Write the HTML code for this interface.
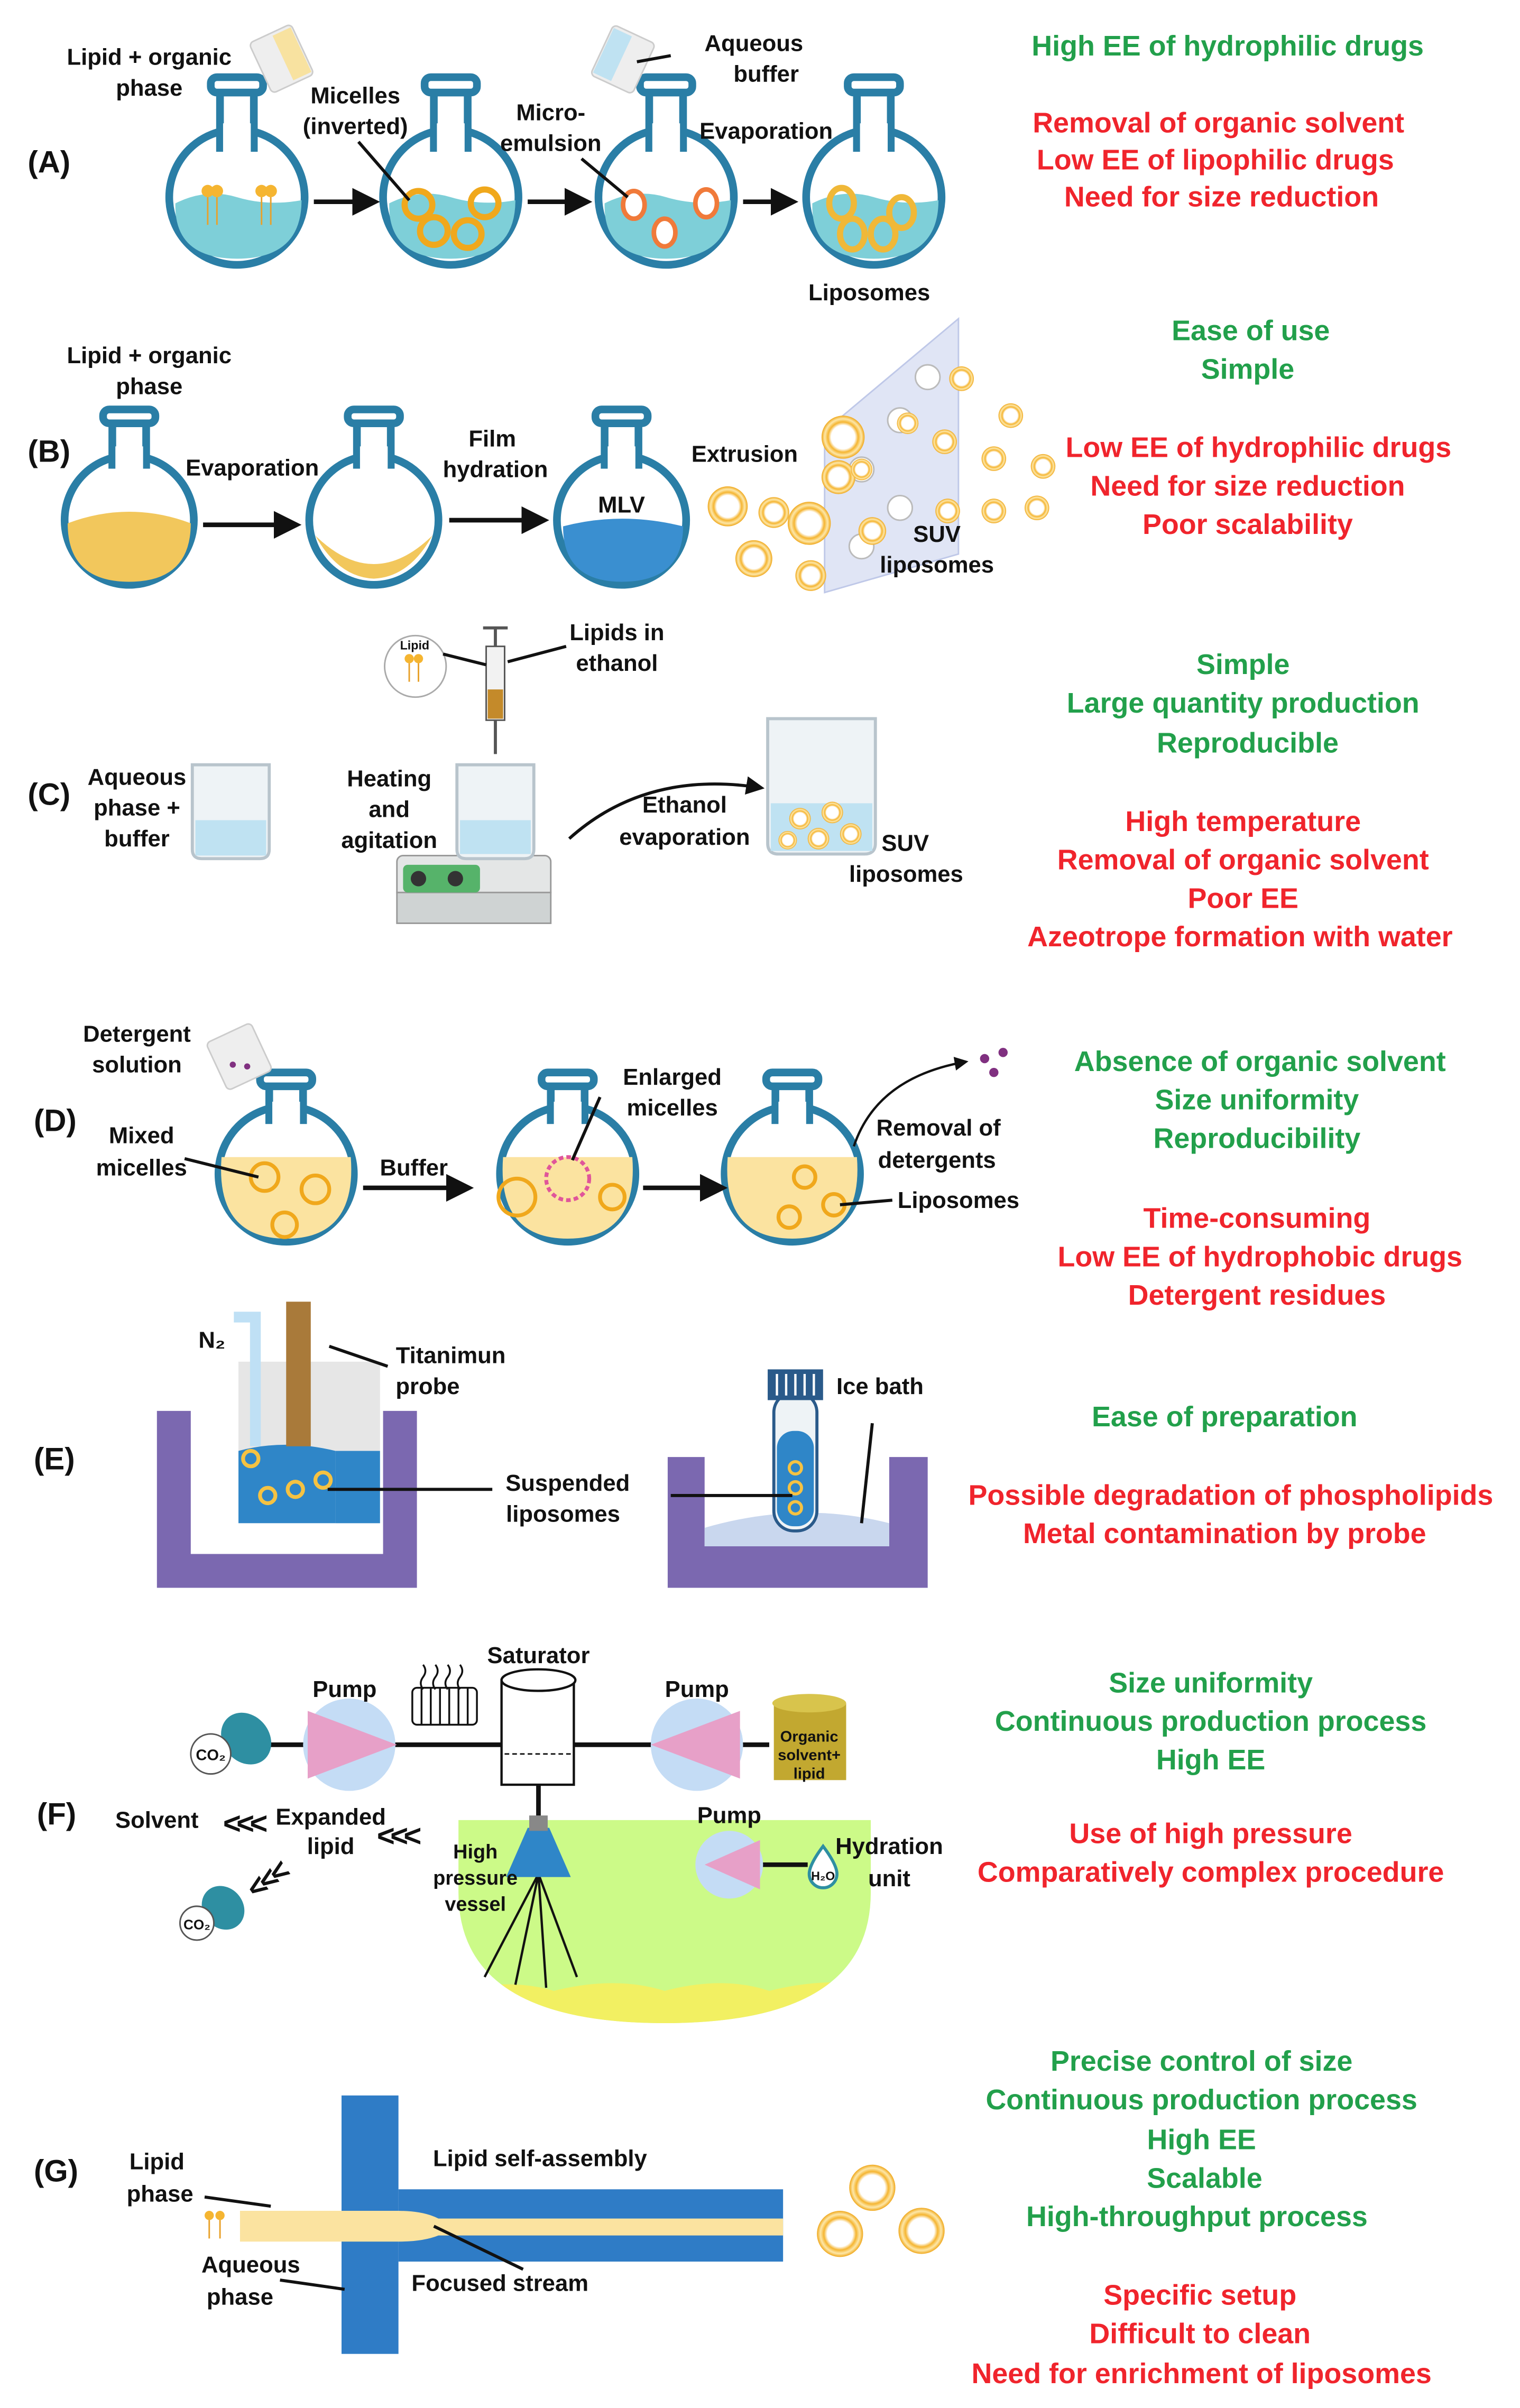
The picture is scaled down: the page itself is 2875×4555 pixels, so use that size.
<!DOCTYPE html>
<html><head><meta charset="utf-8"><style>
html,body{margin:0;padding:0;background:#fff}
svg{display:block}
text{font-family:"Liberation Sans",sans-serif;font-weight:bold}
.g{fill:#22a04b;font-size:18.5px;text-anchor:middle}
.r{fill:#f0242c;font-size:18.5px;text-anchor:middle}
.l{fill:#111;font-size:15px}
.c{text-anchor:middle}
.P{font-size:20px;fill:#111}
.fl{fill:#fff;stroke:#2a7ea6;stroke-width:5}
.ar{stroke:#111;stroke-width:3;fill:none;marker-end:url(#ah)}
.ln{stroke:#111;stroke-width:2;fill:none}
.ves{fill:none;stroke:#f0a81c;stroke-width:4}
</style></head><body>
<svg width="2875" height="4555" viewBox="0 0 988 1565" xmlns="http://www.w3.org/2000/svg">
<defs>
<marker id="ah" markerWidth="6" markerHeight="6" refX="5" refY="3" orient="auto"><path d="M0,0 L6,3 L0,6 z" fill="#111"/></marker>
<radialGradient id="lip"><stop offset="55%" stop-color="#fff"/><stop offset="70%" stop-color="#f5b531"/><stop offset="85%" stop-color="#fde7a8"/><stop offset="100%" stop-color="#f0a81c"/></radialGradient>
<clipPath id="vc"><path d="M298,1183 H566 V1230 Q566,1315 432,1315 Q298,1315 298,1230z"/></clipPath>
</defs>
<text class="P" x="18" y="112">(A)</text>
<text class="P" x="18" y="300">(B)</text>
<text class="P" x="18" y="523">(C)</text>
<text class="P" x="22" y="735">(D)</text>
<text class="P" x="22" y="955">(E)</text>
<text class="P" x="24" y="1186">(F)</text>
<text class="P" x="22" y="1418">(G)</text>

<!-- ===== A ===== -->
<g>
 <g id="fa">
  <circle class="fl" cx="154" cy="128" r="44"/>
  <rect class="fl" x="143" y="56" width="22" height="40"/>
  <rect x="145" y="80" width="18" height="20" fill="#fff"/>
  <rect x="137" y="50" width="34" height="10" rx="4" fill="#fff" stroke="#2a7ea6" stroke-width="5"/>
  <path d="M114,132 Q134,122 154,128 T196,130 Q196,168 154,168 Q113,168 114,132z" fill="#7ecfd8"/>
 </g>
 <use href="#fa" x="139"/><use href="#fa" x="279"/><use href="#fa" x="414"/>
 <g fill="#f5b531"><circle cx="135" cy="124" r="4"/><circle cx="141" cy="124" r="4"/><circle cx="170" cy="124" r="4"/><circle cx="176" cy="124" r="4"/></g>
 <g stroke="#e8a12a" stroke-width="1"><path d="M135,128v18M141,128v18M170,128v18M176,128v18"/></g>
 <g class="ves" stroke-width="3"><circle cx="272" cy="133" r="9"/><circle cx="315" cy="132" r="9"/><circle cx="282" cy="150" r="9"/><circle cx="304" cy="152" r="9"/></g>
 <g fill="#fff" stroke="#f07a3a" stroke-width="3"><ellipse cx="412" cy="133" rx="7" ry="9"/><ellipse cx="459" cy="132" rx="7" ry="9"/><ellipse cx="432" cy="151" rx="7" ry="9"/></g>
 <g fill="none" stroke="#f0b838" stroke-width="4"><ellipse cx="547" cy="132" rx="8" ry="10"/><ellipse cx="586" cy="138" rx="8" ry="10"/><ellipse cx="554" cy="152" rx="8" ry="10"/><ellipse cx="574" cy="152" rx="8" ry="10"/></g>
 <path class="ar" d="M204,131 H244"/><path class="ar" d="M343,131 H382"/><path class="ar" d="M483,131 H516"/>
 <g transform="rotate(-25 183 38)"><rect x="168" y="20" width="30" height="36" rx="3" fill="#eee" stroke="#ccc"/><rect x="184" y="22" width="13" height="32" fill="#f8e2a0"/></g>
 <g transform="rotate(25 404 38)"><rect x="390" y="20" width="30" height="36" rx="3" fill="#eee" stroke="#ccc"/><rect x="391" y="22" width="13" height="32" fill="#bfe2f2"/></g>
 <text class="l c" x="97" y="42">Lipid + organic</text><text class="l c" x="97" y="62">phase</text>
 <text class="l c" x="231" y="67">Micelles</text><text class="l c" x="231" y="87">(inverted)</text>
 <text class="l c" x="358" y="78">Micro-</text><text class="l c" x="358" y="98">emulsion</text>
 <text class="l c" x="490" y="33">Aqueous</text><text class="l c" x="498" y="53">buffer</text>
 <text class="l c" x="498" y="90">Evaporation</text>
 <text class="l c" x="565" y="195">Liposomes</text>
 <path class="ln" d="M233,92 L266,130M378,103 L408,128M414,40 L436,36"/>
</g>
<text class="g" x="798" y="36">High EE of hydrophilic drugs</text>
<text class="r" x="792" y="86">Removal of organic solvent</text>
<text class="r" x="790" y="110">Low EE of lipophilic drugs</text>
<text class="r" x="794" y="134">Need for size reduction</text>

<!-- ===== B ===== -->
<g>
 <g id="fb">
  <circle class="fl" cx="84" cy="338" r="42"/>
  <rect class="fl" x="73" y="272" width="22" height="30"/>
  <rect x="75" y="290" width="18" height="16" fill="#fff"/>
  <rect x="67" y="266" width="34" height="9" rx="4" fill="#fff" stroke="#2a7ea6" stroke-width="5"/>
 </g>
 <path d="M44,340 Q84,325 124,340 Q124,378 84,378 Q44,378 44,340z" fill="#f2c75c"/>
 <use href="#fb" x="159"/><use href="#fb" x="320"/>
 <path d="M205,348 Q243,385 281,348 Q266,375 243,376 Q220,375 205,348z" fill="#f2c75c"/>
 <path d="M366,342 Q404,332 444,342 Q444,378 404,378 Q366,378 366,342z" fill="#3a8fd0"/>
 <text class="l c" x="404" y="333">MLV</text>
 <path class="ar" d="M132,341 H193"/><path class="ar" d="M292,338 H354"/>
 <text class="l c" x="97" y="236">Lipid + organic</text><text class="l c" x="97" y="256">phase</text>
 <text class="l c" x="164" y="309">Evaporation</text>
 <text class="l c" x="320" y="290">Film</text><text class="l c" x="322" y="310">hydration</text>
 <text class="l c" x="484" y="300">Extrusion</text>
 <polygon points="536,280 623,207 623,360 536,385" fill="#dde3f5" stroke="#b9c3e6" opacity="0.9"/>
 <g fill="#fff" stroke="#bbb"><circle cx="603" cy="245" r="8"/><circle cx="585" cy="273" r="8"/><circle cx="560" cy="305" r="8"/><circle cx="585" cy="330" r="8"/><circle cx="560" cy="355" r="8"/></g>
 <g fill="url(#lip)"><circle cx="548" cy="284" r="14"/><circle cx="526" cy="340" r="14"/><circle cx="473" cy="329" r="13"/><circle cx="503" cy="333" r="10"/><circle cx="490" cy="363" r="12"/><circle cx="527" cy="374" r="10"/><circle cx="545" cy="310" r="11"/><circle cx="567" cy="345" r="9"/>
 <circle cx="625" cy="246" r="8"/><circle cx="657" cy="270" r="8"/><circle cx="614" cy="287" r="8"/><circle cx="646" cy="298" r="8"/><circle cx="678" cy="303" r="8"/><circle cx="616" cy="332" r="8"/><circle cx="646" cy="332" r="8"/><circle cx="674" cy="330" r="8"/><circle cx="590" cy="275" r="7"/><circle cx="560" cy="305" r="7"/></g>
 <text class="l c" x="609" y="352">SUV</text><text class="l c" x="609" y="372">liposomes</text>
</g>
<text class="g" x="813" y="221">Ease of use</text>
<text class="g" x="811" y="246">Simple</text>
<text class="r" x="818" y="297">Low EE of hydrophilic drugs</text>
<text class="r" x="811" y="322">Need for size reduction</text>
<text class="r" x="811" y="347">Poor scalability</text>

<!-- ===== C ===== -->
<g>
 <path d="M125,497 H175 V552 Q175,558 169,558 H131 Q125,558 125,552z" fill="#eef3f6" stroke="#b8c4cc" stroke-width="2"/>
 <rect x="127" y="533" width="46" height="23" fill="#bfe2f2"/>
 <text class="l c" x="89" y="510">Aqueous</text><text class="l c" x="89" y="530">phase +</text><text class="l c" x="89" y="550">buffer</text>
 <rect x="258" y="556" width="100" height="28" rx="4" fill="#e4e6e6" stroke="#999"/>
 <rect x="258" y="580" width="100" height="20" fill="#cfd3d3" stroke="#999"/>
 <rect x="262" y="562" width="50" height="18" rx="3" fill="#56b36a"/>
 <circle cx="272" cy="571" r="5" fill="#333"/><circle cx="296" cy="571" r="5" fill="#333"/>
 <path d="M297,497 H347 V552 Q347,558 341,558 H303 Q297,558 297,552z" fill="#eef3f6" stroke="#b8c4cc" stroke-width="2"/>
 <rect x="299" y="533" width="46" height="22" fill="#bfe2f2"/>
 <rect x="316" y="420" width="12" height="48" fill="#f2f2f2" stroke="#555"/>
 <rect x="317" y="448" width="10" height="19" fill="#c48a2a"/>
 <path d="M322,408 V420 M314,408 H330 M322,468 V490" stroke="#555" stroke-width="2"/>
 <circle cx="270" cy="433" r="20" fill="#fff" stroke="#aaa"/>
 <text x="260" y="422" font-size="8" fill="#111">Lipid</text>
 <g fill="#f5b531"><circle cx="266" cy="428" r="3"/><circle cx="272" cy="428" r="3"/></g>
 <path d="M266,431v12M272,431v12" stroke="#e8a12a"/>
 <path class="ln" d="M288,425 L316,432M330,430 L368,420"/>
 <text class="l c" x="401" y="416">Lipids in</text><text class="l c" x="401" y="436">ethanol</text>
 <text class="l c" x="253" y="511">Heating</text><text class="l c" x="253" y="531">and</text><text class="l c" x="253" y="551">agitation</text>
 <path d="M370,545 Q420,500 495,512" fill="none" stroke="#111" stroke-width="2" marker-end="url(#ah)"/>
 <text class="l c" x="445" y="528">Ethanol</text><text class="l c" x="445" y="549">evaporation</text>
 <path d="M499,467 H569 V548 Q569,555 562,555 H506 Q499,555 499,548z" fill="#eef3f6" stroke="#b8c4cc" stroke-width="2"/>
 <rect x="501" y="522" width="66" height="31" fill="#bfe2f2"/>
 <g fill="url(#lip)"><circle cx="520" cy="532" r="7"/><circle cx="541" cy="528" r="7"/><circle cx="532" cy="545" r="7"/><circle cx="553" cy="542" r="7"/><circle cx="512" cy="546" r="6"/></g>
 <text class="l" x="573" y="553">SUV</text><text class="l c" x="589" y="573">liposomes</text>
</g>
<text class="g" x="808" y="438">Simple</text>
<text class="g" x="808" y="463">Large quantity production</text>
<text class="g" x="811" y="489">Reproducible</text>
<text class="r" x="808" y="540">High temperature</text>
<text class="r" x="808" y="565">Removal of organic solvent</text>
<text class="r" x="808" y="590">Poor EE</text>
<text class="r" x="806" y="615">Azeotrope formation with water</text>

<!-- ===== D ===== -->
<g>
 <g id="fd">
  <circle class="fl" cx="186" cy="763" r="44"/>
  <rect class="fl" x="175" y="703" width="22" height="25"/>
  <rect x="177" y="716" width="18" height="16" fill="#fff"/>
  <rect x="169" y="697" width="34" height="9" rx="4" fill="#fff" stroke="#2a7ea6" stroke-width="5"/>
  <path d="M144,752 H228 Q232,805 186,805 Q140,805 144,752z" fill="#fbe3a0"/>
 </g>
 <use href="#fd" x="183"/><use href="#fd" x="329"/>
 <g fill="none" stroke="#f0a81c" stroke-width="2.5"><circle cx="172" cy="765" r="9"/><circle cx="205" cy="773" r="9"/><circle cx="185" cy="796" r="8"/>
 <circle cx="336" cy="778" r="12"/><circle cx="369" cy="766" r="14" stroke="#e0559a" stroke-dasharray="3 2"/><circle cx="398" cy="778" r="8"/>
 <circle cx="523" cy="765" r="7"/><circle cx="513" cy="791" r="7"/><circle cx="542" cy="783" r="7"/></g>
 <path class="ar" d="M236,772 H305"/><path class="ar" d="M418,772 H470"/>
 <text class="l c" x="269" y="764">Buffer</text>
 <text class="l c" x="89" y="677">Detergent</text><text class="l c" x="89" y="697">solution</text>
 <g transform="rotate(-25 155 688)"><rect x="140" y="670" width="32" height="34" rx="3" fill="#eee" stroke="#ccc"/><circle cx="150" cy="690" r="2" fill="#803080"/><circle cx="158" cy="695" r="2" fill="#803080"/></g>
 <text class="l c" x="92" y="743">Mixed</text><text class="l c" x="92" y="764">micelles</text>
 <path class="ln" d="M120,753 L168,765"/>
 <text class="l c" x="437" y="705">Enlarged</text><text class="l c" x="437" y="725">micelles</text>
 <path class="ln" d="M390,713 L372,754"/>
 <path d="M555,745 Q570,700 628,690" fill="none" stroke="#111" stroke-width="1.5" marker-end="url(#ah)"/>
 <g fill="#803080"><circle cx="640" cy="688" r="3"/><circle cx="652" cy="684" r="3"/><circle cx="646" cy="697" r="3"/></g>
 <text class="l c" x="610" y="738">Removal  of</text><text class="l c" x="609" y="759">detergents</text>
 <text class="l c" x="623" y="785">Liposomes</text>
 <path class="ln" d="M580,780 L546,783"/>
</g>
<text class="g" x="819" y="696">Absence of organic solvent</text>
<text class="g" x="817" y="721">Size uniformity</text>
<text class="g" x="817" y="746">Reproducibility</text>
<text class="r" x="817" y="798">Time-consuming</text>
<text class="r" x="819" y="823">Low EE of hydrophobic drugs</text>
<text class="r" x="817" y="848">Detergent residues</text>

<!-- ===== E ===== -->
<g>
 <path d="M102,917 H124 V1010 H249 V917 H271 V1032 H102z" fill="#7b68b0"/>
 <rect x="155" y="885" width="92" height="105" fill="#e6e6e6"/>
 <path d="M155,943 Q185,935 218,943 V990 H155z" fill="#2f86c8"/>
 <rect x="218" y="943" width="29" height="47" fill="#2f86c8"/>
 <rect x="186" y="846" width="16" height="94" fill="#a97a3a"/>
 <path d="M152,856 H166 V940" fill="none" stroke="#bfe0f5" stroke-width="7"/>
 <g fill="none" stroke="#f5c242" stroke-width="2.5"><circle cx="163" cy="948" r="5"/><circle cx="174" cy="972" r="5"/><circle cx="192" cy="968" r="5"/><circle cx="210" cy="962" r="5"/></g>
 <text class="l" x="129" y="876">N₂</text>
 <path class="ln" d="M214,875 L252,888"/>
 <text class="l c" x="293" y="886">Titanimun</text><text class="l c" x="278" y="906">probe</text>
 <path class="ln" d="M213,968 H320"/>
 <text class="l c" x="369" y="969">Suspended</text><text class="l c" x="366" y="989">liposomes</text>
 <path d="M434,947 H458 V1005 H578 V947 H603 V1032 H434z" fill="#7b68b0"/>
 <path d="M458,993 Q520,975 578,990 V1005 H458z" fill="#c9d7ee"/>
 <rect x="503" y="905" width="28" height="90" rx="13" fill="#eef3f6" stroke="#2a5a8a" stroke-width="2"/>
 <rect x="505" y="930" width="24" height="62" rx="11" fill="#2f86c8"/>
 <rect x="499" y="890" width="36" height="20" fill="#2a5a8a"/>
 <path d="M505,893v14M511,893v14M517,893v14M523,893v14M529,893v14" stroke="#fff" stroke-width="1.5"/>
 <g fill="none" stroke="#f5c242" stroke-width="2"><circle cx="517" cy="954" r="4"/><circle cx="517" cy="967" r="4"/><circle cx="517" cy="980" r="4"/></g>
 <path class="ln" d="M436,972 H515M567,925 L560,990"/>
 <text class="l c" x="572" y="906">Ice bath</text>
</g>
<text class="g" x="796" y="927">Ease of preparation</text>
<text class="r" x="800" y="978">Possible degradation of phospholipids</text>
<text class="r" x="796" y="1003">Metal contamination by probe</text>

<!-- ===== F ===== -->
<g>
 <path d="M298,1183 H566 V1230 Q566,1315 432,1315 Q298,1315 298,1230z" fill="#ccfa88"/>
 <g clip-path="url(#vc)"><path d="M290,1295 Q330,1285 360,1294 Q400,1284 432,1294 Q470,1284 500,1294 Q540,1284 575,1292 V1320 H290z" fill="#f2f062"/></g>
 <g stroke="#111" stroke-width="1.5"><path d="M350,1218 L315,1285M350,1218 L335,1290M350,1218 L355,1292M350,1218 L375,1285"/></g>
 <polygon points="343,1188 357,1188 371,1220 329,1220" fill="#2f86c8"/>
 <rect x="344" y="1180" width="12" height="10" fill="#888"/>
 <path d="M350,1160 V1180" stroke="#111" stroke-width="3"/>
 <text x="309" y="1208" font-size="13" fill="#111" text-anchor="middle">High</text>
 <text x="309" y="1225" font-size="13" fill="#111" text-anchor="middle">pressure</text>
 <text x="309" y="1242" font-size="13" fill="#111" text-anchor="middle">vessel</text>
 <path d="M160,1134 H500" stroke="#111" stroke-width="3"/>
 <path d="M474,1212 H525" stroke="#111" stroke-width="3"/>
 <rect x="326" y="1092" width="47" height="68" fill="#fff" stroke="#111" stroke-width="1.5"/>
 <ellipse cx="350" cy="1092" rx="24" ry="7" fill="#fff" stroke="#111" stroke-width="1.5"/>
 <path d="M328,1140 H372" stroke="#111" stroke-dasharray="3 2"/>
 <text class="l c" x="350" y="1081">Saturator</text>
 <g stroke="#111" fill="none" stroke-width="1.2"><rect x="268" y="1097" width="42" height="24" rx="3"/><path d="M274,1097v24M280,1097v24M286,1097v24M292,1097v24M298,1097v24M304,1097v24"/><path d="M275,1082q3,4 0,8t0,8M283,1082q3,4 0,8t0,8M291,1082q3,4 0,8t0,8M299,1082q3,4 0,8t0,8"/></g>
 <circle cx="227" cy="1134" r="30" fill="#c4dcf5"/><polygon points="200,1112 258,1134 200,1156" fill="#e7a0c8"/>
 <circle cx="453" cy="1134" r="30" fill="#c4dcf5"/><polygon points="481,1112 423,1134 481,1156" fill="#e7a0c8"/>
 <circle cx="474" cy="1212" r="22" fill="#c4dcf5"/><polygon points="494,1196 458,1212 494,1228" fill="#e7a0c8"/>
 <text class="l c" x="224" y="1103">Pump</text><text class="l c" x="453" y="1103">Pump</text><text class="l c" x="474" y="1185">Pump</text>
 <rect x="503" y="1107" width="47" height="50" fill="#c2a830"/>
 <ellipse cx="526" cy="1107" rx="24" ry="6" fill="#d8c44c"/>
 <text x="526" y="1132" font-size="10" text-anchor="middle" fill="#111">Organic</text>
 <text x="526" y="1144" font-size="10" text-anchor="middle" fill="#111">solvent+</text>
 <text x="526" y="1156" font-size="10" text-anchor="middle" fill="#111">lipid</text>
 <ellipse cx="160" cy="1130" rx="15" ry="18" fill="#2e8fa2" transform="rotate(-40 160 1130)"/>
 <circle cx="137" cy="1140" r="13" fill="#fff" stroke="#555"/>
 <text x="137" y="1144" font-size="10" text-anchor="middle" fill="#111">CO₂</text>
 <ellipse cx="145" cy="1240" rx="13" ry="15" fill="#2e8fa2" transform="rotate(-40 145 1240)"/>
 <circle cx="128" cy="1250" r="11" fill="#fff" stroke="#555"/>
 <text x="128" y="1254" font-size="9" text-anchor="middle" fill="#111">CO₂</text>
 <path d="M535,1200 Q526,1212 526,1218 A9,9 0 0 0 544,1218 Q544,1212 535,1200z" fill="#fff" stroke="#2e8fa2" stroke-width="2"/>
 <text x="535" y="1222" font-size="8" text-anchor="middle" fill="#111">H₂O</text>
 <text class="l c" x="578" y="1205">Hydration</text><text class="l c" x="578" y="1226">unit</text>
 <text class="l c" x="102" y="1188">Solvent</text>
 <text class="l c" x="215" y="1186">Expanded</text><text class="l c" x="215" y="1205">lipid</text>
 <text x="158" y="1192" font-size="20" fill="#111" font-weight="bold" text-anchor="middle" letter-spacing="-3">&lt;&lt;&lt;</text>
 <text x="258" y="1200" font-size="20" fill="#111" font-weight="bold" text-anchor="middle" letter-spacing="-3">&lt;&lt;&lt;</text>
 <text x="173" y="1229" font-size="20" fill="#111" font-weight="bold" text-anchor="middle" letter-spacing="-3" transform="rotate(-35 173 1222)">&lt;&lt;&lt;</text>
</g>
<text class="g" x="787" y="1100">Size uniformity</text>
<text class="g" x="787" y="1125">Continuous production process</text>
<text class="g" x="787" y="1150">High EE</text>
<text class="r" x="787" y="1198">Use of high pressure</text>
<text class="r" x="787" y="1223">Comparatively complex procedure</text>

<!-- ===== G ===== -->
<g>
 <rect x="222" y="1362" width="37" height="168" fill="#2f7cc6"/>
 <rect x="259" y="1423" width="250" height="47" fill="#2f7cc6"/>
 <path d="M156,1437 H259 Q275,1437 285,1442 H509 V1453 H285 Q275,1457 259,1457 H156z" fill="#fbe3a0"/>
 <g fill="#f5b531"><circle cx="136" cy="1440" r="3"/><circle cx="143" cy="1440" r="3"/></g>
 <path d="M136,1443v12M143,1443v12" stroke="#e8a12a"/>
 <text class="l c" x="102" y="1410">Lipid</text><text class="l c" x="104" y="1431">phase</text>
 <path class="ln" d="M133,1428 L176,1434"/>
 <text class="l c" x="163" y="1477">Aqueous</text><text class="l c" x="156" y="1498">phase</text>
 <path class="ln" d="M182,1482 L224,1488"/>
 <text class="l c" x="351" y="1408">Lipid self-assembly</text>
 <text class="l c" x="325" y="1489">Focused stream</text>
 <path class="ln" d="M282,1447 L340,1475"/>
 <g fill="url(#lip)"><circle cx="567" cy="1422" r="15"/><circle cx="546" cy="1452" r="15"/><circle cx="599" cy="1450" r="15"/></g>
</g>
<text class="g" x="781" y="1346">Precise control of size</text>
<text class="g" x="781" y="1371">Continuous production process</text>
<text class="g" x="781" y="1397">High EE</text>
<text class="g" x="783" y="1422">Scalable</text>
<text class="g" x="778" y="1447">High-throughput process</text>
<text class="r" x="780" y="1498">Specific setup</text>
<text class="r" x="780" y="1523">Difficult to clean</text>
<text class="r" x="781" y="1549">Need for enrichment of liposomes</text>
</svg>
</body></html>
